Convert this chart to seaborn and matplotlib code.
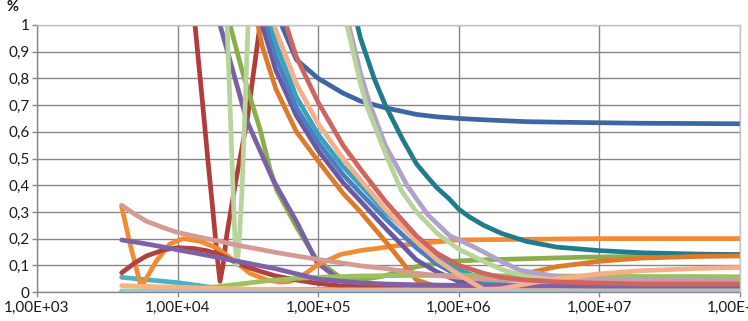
import numpy as np
import matplotlib
matplotlib.use("Agg")
import matplotlib.pyplot as plt
import seaborn as sns

# ---------------- data ----------------
x_grid = [4e3, 5e3, 6e3, 8e3, 1e4, 1.3e4, 1.6e4, 2e4, 2.5e4, 3e4, 4e4, 5e4, 7e4, 1e5,
          1.5e5, 2e5, 3e5, 5e5, 7e5, 1e6, 1.5e6, 2e6, 3e6, 5e6, 1e7, 2e7, 5e7, 1e8]

x_tail = [3e4, 4e4, 5e4, 7e4, 1e5, 1.5e5, 2e5, 3e5, 5e5, 7e5, 1e6, 1.5e6, 2e6, 3e6,
          5e6, 1e7, 2e7, 5e7, 1e8]

blue_dark_y = [1.8, 1.3, 1.05, 0.87, 0.80, 0.745, 0.715, 0.69, 0.665, 0.656, 0.65, 0.645,
               0.642, 0.638, 0.636, 0.634, 0.632, 0.631, 0.63]
orange_dark_y = [1.25, 0.92, 0.76, 0.60, 0.49, 0.37, 0.30, 0.19, 0.045, 0.02, 0.012,
                 0.02, 0.04, 0.07, 0.095, 0.115, 0.127, 0.133, 0.135]
purple_bundle_y = [1.35, 1.0, 0.83, 0.66, 0.53, 0.41, 0.34, 0.24, 0.12, 0.075, 0.04,
                   0.025, 0.02, 0.02, 0.02, 0.02, 0.02, 0.02, 0.02]
blue_bundle_y = [1.5, 1.06, 0.88, 0.69, 0.56, 0.44, 0.37, 0.275, 0.165, 0.105, 0.06,
                 0.03, 0.022, 0.018, 0.016, 0.015, 0.015, 0.015, 0.015]
teal_bundle_y = [1.6, 1.12, 0.93, 0.73, 0.59, 0.47, 0.40, 0.30, 0.20, 0.135, 0.085,
                 0.045, 0.03, 0.02, 0.016, 0.015, 0.015, 0.015, 0.015]
salmon_y = [1.7, 1.18, 0.98, 0.78, 0.63, 0.50, 0.42, 0.31, 0.19, 0.12, 0.065, 0.01,
            0.012, 0.03, 0.05, 0.068, 0.08, 0.088, 0.092]
red_light_y = [1.8, 1.35, 1.12, 0.88, 0.71, 0.55, 0.46, 0.34, 0.21, 0.145, 0.10, 0.07,
               0.055, 0.045, 0.038, 0.033, 0.03, 0.03, 0.03]

teal_dark_x = [1.5e5, 1.8e5, 2e5, 2.5e5, 3e5, 4e5, 5e5, 6e5, 7e5, 8.5e5, 1e6, 1.2e6,
               1.5e6, 2e6, 3e6, 5e6, 1e7, 2e7, 5e7, 1e8]
teal_dark_y = [1.25, 1.05, 0.95, 0.80, 0.70, 0.57, 0.48, 0.43, 0.39, 0.35, 0.31, 0.28,
               0.25, 0.22, 0.19, 0.168, 0.155, 0.147, 0.142, 0.14]

lavender_x = [1.4e5, 1.65e5, 2e5, 2.34e5, 3e5, 4.28e5, 6e5, 8.66e5, 1.2e6, 1.5e6, 2e6,
              2.7e6, 5e6, 1e7, 2e7, 5e7, 1e8]
lavender_y = [1.2, 1.0, 0.82, 0.70, 0.55, 0.40, 0.29, 0.21, 0.176, 0.15, 0.115, 0.082,
              0.058, 0.048, 0.045, 0.043, 0.042]

red_hump_y = [0.072, 0.11, 0.135, 0.158, 0.166, 0.163, 0.155, 0.14, 0.115, 0.097, 0.075,
              0.06, 0.045, 0.032, 0.022, 0.017, 0.013, 0.01, 0.01, 0.01, 0.01, 0.01,
              0.01, 0.01, 0.01, 0.01, 0.01, 0.01]
pink_y = [0.325, 0.29, 0.265, 0.24, 0.223, 0.21, 0.20, 0.19, 0.178, 0.17, 0.158, 0.148,
          0.135, 0.122, 0.108, 0.098, 0.088, 0.07, 0.062, 0.055, 0.048, 0.045, 0.043,
          0.042, 0.041, 0.04, 0.04, 0.04]
purple_line_y = [0.195, 0.187, 0.18, 0.168, 0.158, 0.147, 0.138, 0.128, 0.118, 0.11,
                 0.097, 0.087, 0.068, 0.048, 0.04, 0.034, 0.03, 0.027, 0.026, 0.025,
                 0.024, 0.024, 0.023, 0.023, 0.022, 0.022, 0.022, 0.022]
green_low_y = [0.004, 0.004, 0.005, 0.006, 0.008, 0.012, 0.016, 0.021, 0.027, 0.032,
               0.04, 0.045, 0.051, 0.055, 0.058, 0.06, 0.061, 0.062, 0.062, 0.062,
               0.062, 0.061, 0.06, 0.06, 0.059, 0.058, 0.058, 0.057]
cyan_y = [0.055, 0.05, 0.046, 0.04, 0.035, 0.027, 0.02, 0.014, 0.011, 0.01, 0.01, 0.01,
          0.01, 0.01, 0.01, 0.01, 0.01, 0.01, 0.01, 0.01, 0.01, 0.01, 0.01, 0.01, 0.01,
          0.01, 0.01, 0.01]
tan_y = [0.024, 0.022, 0.021, 0.019, 0.018, 0.016, 0.014, 0.013, 0.012, 0.011, 0.01,
         0.01, 0.009, 0.008, 0.008, 0.008, 0.008, 0.008, 0.008, 0.008, 0.008, 0.008,
         0.008, 0.008, 0.008, 0.008, 0.008, 0.008]
sky_y = [0.004] * 28

orange_x = [4000, 4586, 5402, 5675, 7137, 8830, 10925, 14430, 19060, 24780, 32730,
            43230, 53490, 63030, 74240, 98060, 142900, 198300, 381800, 987000,
            10100000, 1e8]
orange_y = [0.32, 0.18, 0.035, 0.03, 0.12, 0.18, 0.20, 0.19, 0.165, 0.12, 0.07, 0.045,
            0.037, 0.04, 0.055, 0.10, 0.14, 0.155, 0.175, 0.195, 0.20, 0.20]

red_v_x = [1.0e4, 1.33e4, 1.516e4, 1.645e4, 1.786e4, 1.906e4, 2.003e4, 2.103e4,
           2.246e4, 2.603e4, 3.116e4, 3.855e4, 5e4]
red_v_y = [2.0, 1.0, 0.69, 0.49, 0.30, 0.14, 0.04, 0.10, 0.22, 0.42, 0.64, 1.0, 1.5]

light_green_x = [2.0e4, 2.25e4, 2.48e4, 2.57e4, 2.645e4, 2.73e4, 2.87e4, 3.17e4, 3.5e4,
                 1.2e5, 1.6e5, 2e5, 2.2e5, 3e5, 3.9e5, 5e5, 7e5, 1e6, 1.5e6, 2e6, 3e6,
                 5e6, 1e7, 2e7, 5e7, 1e8]
light_green_y = [1.5, 1.0, 0.38, 0.17, 0.10, 0.17, 0.38, 1.0, 1.5, 1.5, 1.0, 0.78,
                 0.70, 0.52, 0.38, 0.30, 0.22, 0.16, 0.115, 0.085, 0.058, 0.045, 0.04,
                 0.038, 0.037, 0.037]

purple_drop_x = [1.6e4, 20030, 31160, 47700, 70690, 98060, 142900, 198300, 5e5, 1e6,
                 1e7, 1e8]
purple_drop_y = [1.6, 1.0, 0.64, 0.42, 0.26, 0.11, 0.045, 0.02, 0.012, 0.01, 0.01, 0.01]

olive_x = [20000, 23590, 28710, 32730, 38550, 45410, 50930, 70690, 98060, 142900,
           198300, 293800, 504300, 865700, 1415000, 7278000, 1e8]
olive_y = [1.4, 1.0, 0.83, 0.73, 0.61, 0.46, 0.38, 0.24, 0.12, 0.055, 0.045, 0.06,
           0.095, 0.115, 0.12, 0.13, 0.14]

y_ticks = [0, 0.1, 0.2, 0.3, 0.4, 0.5, 0.6, 0.7, 0.8, 0.9, 1]
y_tick_labels = ["0", "0,1", "0,2", "0,3", "0,4", "0,5", "0,6", "0,7", "0,8", "0,9", "1"]
x_ticks = [1e3, 1e4, 1e5, 1e6, 1e7, 1e8]
x_tick_labels = ["1,00E+03", "1,00E+04", "1,00E+05", "1,00E+06", "1,00E+07", "1,00E+08"]

# ---------------- plot ----------------
sns.set_style("white")
plt.rcParams["font.family"] = ["Lato", "DejaVu Sans"]

fig = plt.figure(figsize=(7.48, 3.21), dpi=100)
ax = fig.add_axes([37 / 748, 1 - 292 / 321, 703 / 748, 267 / 321])
ax.set_xscale("log")

LW = 3.4
series = [
    (x_tail, blue_dark_y, "#3E66A3"),
    (red_v_x, red_v_y, "#B03D3B"),
    (olive_x, olive_y, "#8AAE4C"),
    (purple_drop_x, purple_drop_y, "#7B60A6"),
    (x_grid, cyan_y, "#4DB0CB"),
    (orange_x, orange_y, "#F38B34"),
    (teal_dark_x, teal_dark_y, "#1F7B8D"),
    (x_tail, orange_dark_y, "#E07A2B"),
    (x_tail, purple_bundle_y, "#6A58A2"),
    (x_tail, blue_bundle_y, "#4A7EC2"),
    (x_tail, teal_bundle_y, "#39A2BA"),
    (x_grid, red_hump_y, "#B2403E"),
    (x_grid, green_low_y, "#9BC25E"),
    (lavender_x, lavender_y, "#B0A2CB"),
    (x_grid, tan_y, "#F7B47E"),
    (light_green_x, light_green_y, "#B8D49C"),
    (x_grid, pink_y, "#D69A95"),
    (x_grid, purple_line_y, "#7E62A8"),
    (x_tail, salmon_y, "#F5AF8B"),
    (x_tail, red_light_y, "#CE6561"),
    (x_grid, sky_y, "#93CCDD"),
]
for xs, ys, c in series:
    sns.lineplot(x=xs, y=ys, ax=ax, color=c, linewidth=LW, estimator=None,
                 sort=False, legend=False,
                 solid_capstyle="round", solid_joinstyle="round")

ax.set_xlim(1e3, 1e8)
ax.set_ylim(0, 1)
ax.set_xticks(x_ticks)
ax.set_xticklabels(x_tick_labels)
ax.set_yticks(y_ticks)
ax.set_yticklabels(y_tick_labels)
ax.minorticks_off()
ax.set_xlabel("")
ax.set_ylabel("")

ax.grid(True, which="major", color="#878787", linewidth=1.0)
ax.set_axisbelow(True)
for s in ["left", "bottom"]:
    ax.spines[s].set_color("#878787")
    ax.spines[s].set_linewidth(1.0)
for s in ["top", "right"]:
    ax.spines[s].set_color("#C4C4C4")
    ax.spines[s].set_linewidth(1.0)
    ax.spines[s].set_zorder(5)

ax.tick_params(axis="both", which="major", length=3.5, width=1.0, color="#878787",
               labelsize=11, labelcolor="#1a1a1a", direction="out")
ax.tick_params(axis="x", pad=3)
ax.tick_params(axis="y", pad=2)
ax.tick_params(left=True, bottom=True)

fig.text(12 / 748, 1 - 7 / 321, "%", ha="center", va="center", fontsize=10.5,
         color="#1a1a1a", fontweight="bold")

fig.savefig("out.png", dpi=100)
